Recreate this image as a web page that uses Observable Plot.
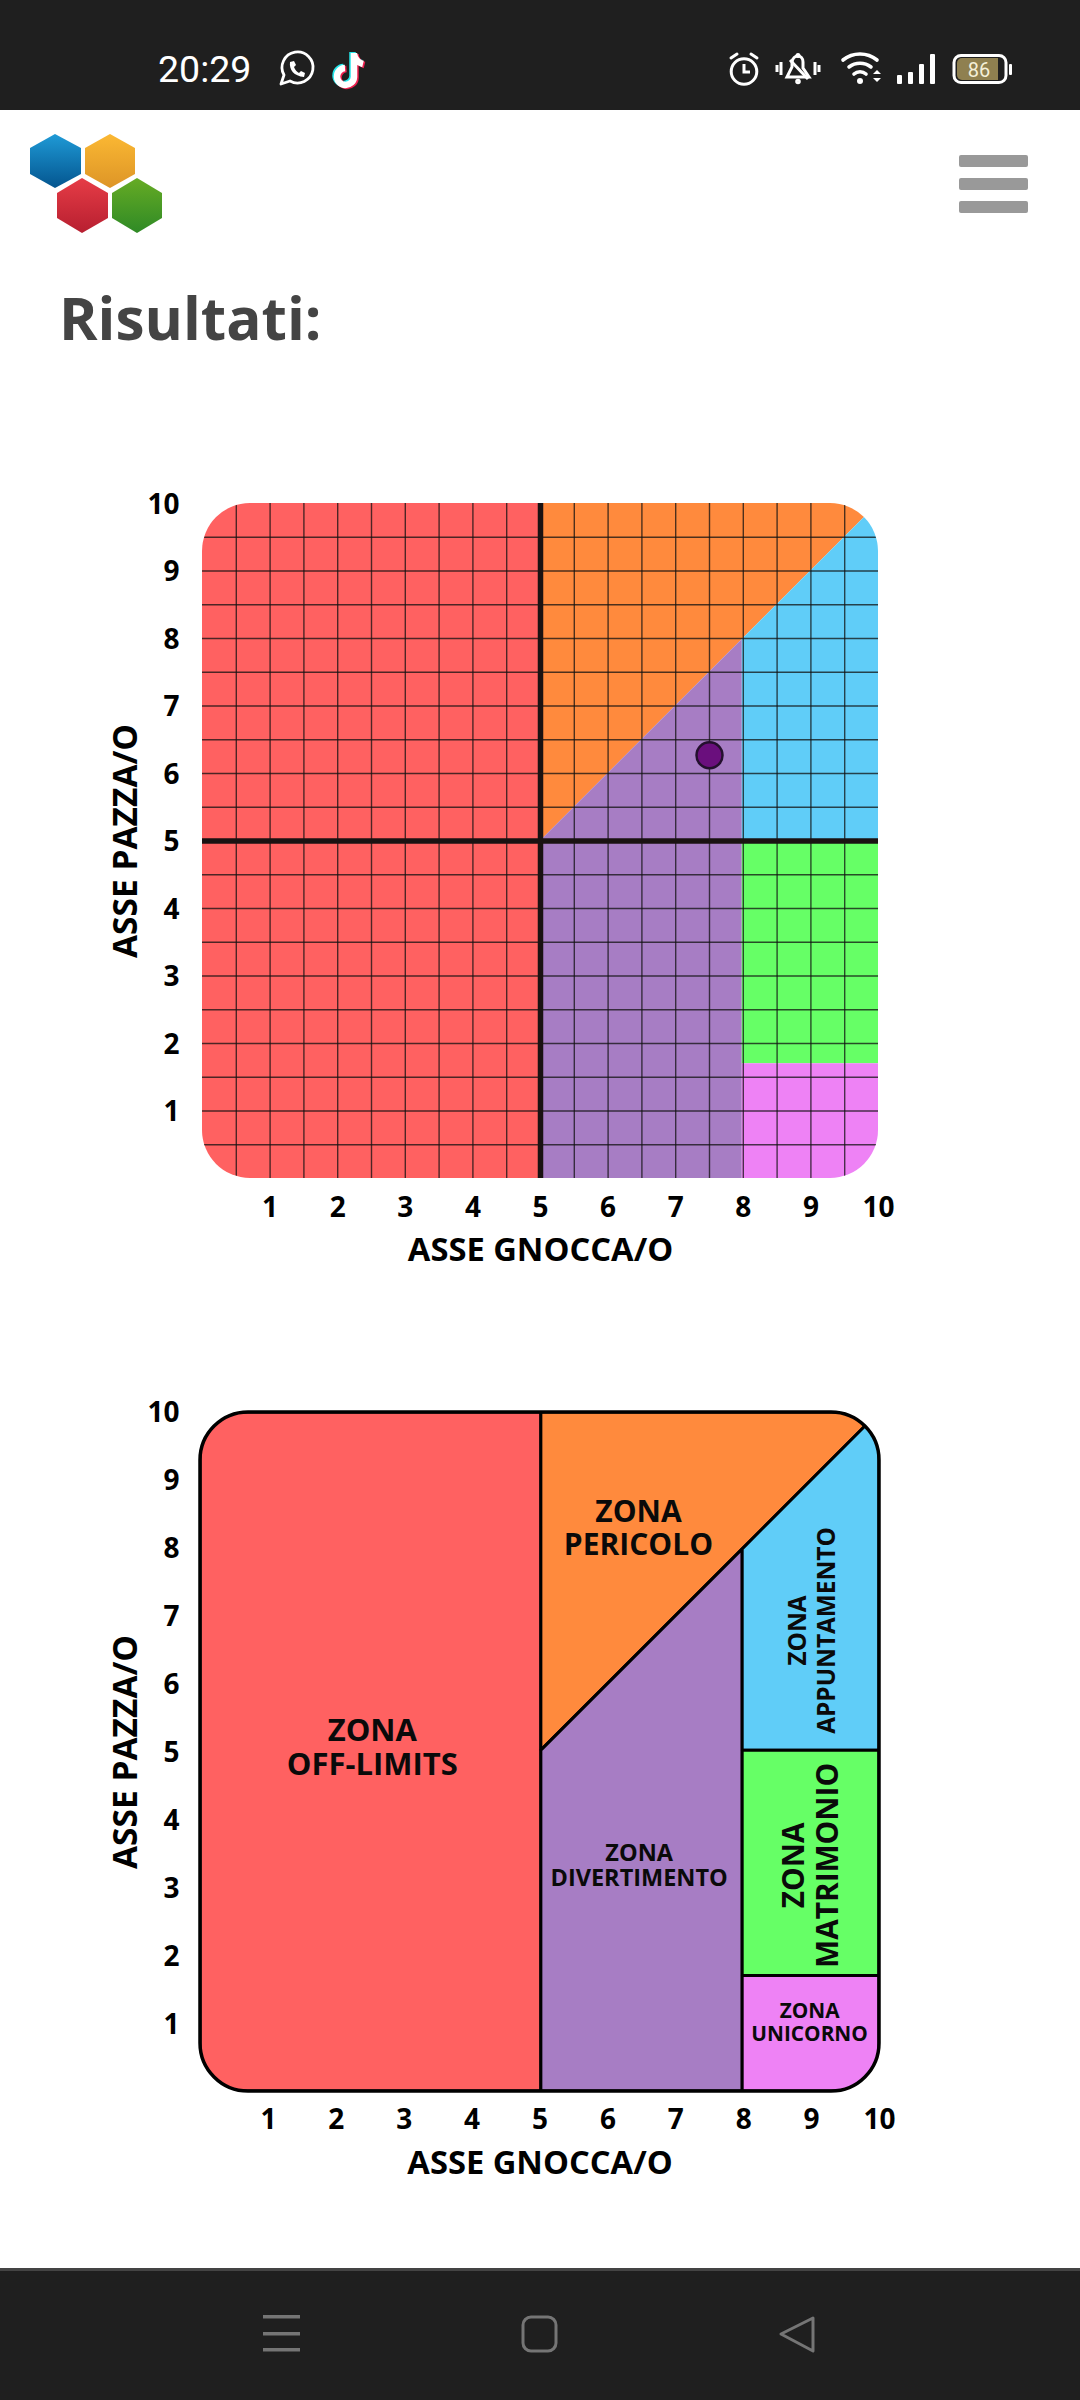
<!DOCTYPE html>
<html lang="it">
<head>
<meta charset="utf-8">
<script src="https://cdn.jsdelivr.net/npm/d3@7"></script>
<script src="https://cdn.jsdelivr.net/npm/@observablehq/plot@0.6"></script>
<style>
  html, body { margin: 0; padding: 0; background: #fff; }
  #page { position: relative; width: 1080px; height: 2400px; overflow: hidden; background: #fff; font-family: "Open Sans", sans-serif; }
  #top { position: absolute; left: 0; top: 0; width: 1080px; height: 110px; background: #1f1f1f; }
  #bottom { position: absolute; left: 0; top: 2268px; width: 1080px; height: 132px; background: #1f1f1f; border-top: 3px solid #444; box-sizing: border-box; }
  #clock { position: absolute; left: 158px; top: 45px; font: 400 37.5px/48px Roboto, sans-serif; color: #fff; }
  #title { position: absolute; left: 59px; top: 277px; margin: 0; font: 700 58.5px/80px "Open Sans", sans-serif; color: #444; }
  #chrome { position: absolute; left: 0; top: 0; }
  .chart { position: absolute; left: 0; }
  .chart svg { display: block; overflow: visible; }
</style>
</head>
<body>
<div id="page">
  <div id="top"></div>
  <div id="bottom"></div>
  <div id="clock">20:29</div>
  <svg id="chrome" width="1080" height="2400" aria-hidden="true">
    <defs>
      <linearGradient id="gb" x1="0" y1="0" x2="0" y2="1"><stop offset="0" stop-color="#1f9ad6"/><stop offset="1" stop-color="#04558f"/></linearGradient>
      <linearGradient id="go" x1="0" y1="0" x2="0" y2="1"><stop offset="0" stop-color="#fbb833"/><stop offset="1" stop-color="#dd9527"/></linearGradient>
      <linearGradient id="gr" x1="0" y1="0" x2="0" y2="1"><stop offset="0" stop-color="#e63c46"/><stop offset="1" stop-color="#b71f30"/></linearGradient>
      <linearGradient id="gg" x1="0" y1="0" x2="0" y2="1"><stop offset="0" stop-color="#66ab24"/><stop offset="1" stop-color="#2f8a26"/></linearGradient>
    </defs>
    <polygon points="55,134 81,148 81,174 55,188 30,174 30,148" fill="url(#gb)"/>
    <polygon points="110,134 135,148 135,174 110,188 85,174 85,148" fill="url(#go)"/>
    <polygon points="82,178 108,193 108,218 82,233 57,218 57,193" fill="url(#gr)"/>
    <polygon points="137,178 162,193 162,218 137,233 112,218 112,193" fill="url(#gg)"/>
    <g fill="#999"><rect x="959" y="155" width="69" height="12" rx="2"/><rect x="959" y="178" width="69" height="12" rx="2"/><rect x="959" y="201" width="69" height="12" rx="2"/></g>

    <!-- whatsapp -->
    <path d="M281,84 L284,75 A15.5,15.5 0 1 1 290,81 Z" fill="none" stroke="#fff" stroke-width="2.8" stroke-linejoin="round"/>
    <path d="M290,62 C289,70 294,76 304,77 L305,73 L301,71 L299,73 C297,72 295,70 294,67 L296,65 L294,61 Z" fill="#fff"/>
    <!-- tiktok -->
    <g fill="none" stroke-width="6.5">
      <path d="M354,53 V77 A8.5,8.5 0 1 1 345,68 M354,54 C355,60 359,63 363,64" stroke="#25e6ea" transform="translate(-1.5,-1)"/>
      <path d="M354,53 V77 A8.5,8.5 0 1 1 345,68 M354,54 C355,60 359,63 363,64" stroke="#f0204f" transform="translate(1.5,1)"/>
      <path d="M354,53 V77 A8.5,8.5 0 1 1 345,68 M354,54 C355,60 359,63 363,64" stroke="#fff"/>
    </g>
    <!-- alarm -->
    <g fill="none" stroke="#fff" stroke-width="3">
      <circle cx="744" cy="71.5" r="12.8"/>
      <path d="M744,64 V72 H750"/>
      <path d="M731,58 L737,54 M757,58 L751,54" stroke-linecap="round"/>
    </g>
    <!-- silent bell -->
    <g fill="none" stroke="#fff" stroke-width="3">
      <path d="M787,77 H809 L803,68 V62 C803,54 793,54 792,62 V67 Z"/>
      <path d="M790,60 L808,79"/>
      <path d="M777,65 V72 M781,62 V75 M815,62 V75 M819,65 V72"/>
      <circle cx="798" cy="81.5" r="1.3"/>
      <circle cx="798" cy="55.5" r="1"/>
    </g>
    <!-- wifi -->
    <g fill="none" stroke="#fff" stroke-width="3.6" stroke-linecap="round">
      <path d="M843,60 A27,27 0 0 1 877,60"/>
      <path d="M849,67 A18,18 0 0 1 871,67"/>
      <path d="M854,74 A9,9 0 0 1 866,74"/>
    </g>
    <circle cx="860" cy="81" r="3" fill="#fff"/>
    <path d="M873,74 L877,70 L881,74 Z M873,78 L877,82 L881,78 Z" fill="#fff"/>
    <!-- signal -->
    <g fill="#fff">
      <rect x="897" y="75" width="5" height="9" rx="1"/><rect x="908" y="72" width="5" height="12" rx="1"/>
      <rect x="919" y="64" width="5" height="20" rx="1"/><rect x="930" y="54" width="5" height="30" rx="1"/>
    </g>
    <!-- battery -->
    <rect x="954" y="55.5" width="52" height="27" rx="7" fill="#1f1f1f" stroke="#fff" stroke-width="3"/>
    <path d="M962,58 H998 V80 H962 A5,5 0 0 1 957,75 V63 A5,5 0 0 1 962,58 Z" fill="#8f8050"/>
    <rect x="1009" y="64" width="3" height="11" rx="1" fill="#fff"/>
    <text x="979" y="77" text-anchor="middle" font-family="Roboto, sans-serif" font-size="20" fill="#f4efd8">86</text>

    <!-- navigation bar -->
    <g fill="#757575"><rect x="263" y="2315" width="37" height="3.5"/><rect x="263" y="2332" width="37" height="3.5"/><rect x="263" y="2348" width="37" height="3.5"/></g>
    <rect x="523" y="2317" width="33" height="34" rx="8" fill="none" stroke="#757575" stroke-width="3"/>
    <path d="M813,2318 L781,2334 L813,2351 Z" fill="none" stroke="#757575" stroke-width="3" stroke-linejoin="round"/>
  </svg>
  <h1 id="title">Risultati:</h1>
  <div class="chart" id="chart1" style="top:470px"></div>
  <div class="chart" id="chart2" style="top:1380px"></div>
</div>

<script>
// Axis ticks and labels
const tickValues = [1, 2, 3, 4, 5, 6, 7, 8, 9, 10];
const gridValues = [0.5, 1, 1.5, 2, 2.5, 3, 3.5, 4, 4.5, 5, 5.5, 6, 6.5, 7, 7.5, 8, 8.5, 9, 9.5];
const xLabel = "ASSE GNOCCA/O";
const yLabel = "ASSE PAZZA/O";

// Zones: each is an outline of [x, lower y, upper y] steps
const redZone    = [[0, 0, 10], [5.02, 0, 10]];
const orangeZone = [[5.02, 5.02, 10], [10, 10, 10]];
const purpleZone = [[5.02, 0, 5.02], [7.985, 0, 7.985]];
const blueZone   = [[7.985, 5.02, 7.985], [10, 5.02, 10]];
const greenZone  = [[7.985, 1.7, 5.02], [10, 1.7, 5.02]];
const pinkZone   = [[7.985, 0, 1.7], [10, 0, 1.7]];

const zoneNames  = ["off-limits", "pericolo", "divertimento", "appuntamento", "matrimonio", "unicorno"];
const zoneShapes = [redZone, orangeZone, purpleZone, blueZone, greenZone, pinkZone];
const zoneColors = ["#ff6161", "#ff8a3d", "#a77dc4", "#60cdf8", "#66ff66", "#ee82f5"];

// The user's result
const resultX = [7.5];
const resultY = [6.27];

// Zone captions
const captionText   = ["ZONA\nOFF-LIMITS", "ZONA\nPERICOLO", "ZONA\nDIVERTIMENTO", "ZONA\nAPPUNTAMENTO", "ZONA\nMATRIMONIO", "ZONA\nUNICORNO"];
const captionX      = [2.53, 6.45, 6.46, 8.99, 8.98, 8.97];
const captionY      = [5.07, 8.3, 3.33, 6.79, 3.33, 1.02];
const captionSize   = [31, 30, 23.5, 24.4, 29.8, 20.8];
const captionLead   = [1.1, 1.1, 1.085, 1.19, 1.14, 1.1];
const captionRotate = [0, 0, 0, -90, -90, 0];

const font = '"Open Sans", sans-serif';
const zoneRows = zoneNames.flatMap((zone, i) =>
  zoneShapes[i].map(([x, y1, y2]) => ({zone, x, y1, y2, color: zoneColors[i]})));
const captions = captionText.map((text, i) => ({
  text, x: captionX[i], y: captionY[i], size: captionSize[i], lead: captionLead[i], rotate: captionRotate[i]
}));

function zoneMark(extra) {
  return Plot.areaY(zoneRows, {x: "x", y1: "y1", y2: "y2", z: "zone", fill: "color", curve: "linear", ...extra});
}

function axes(tickPaddingX, tickPaddingY, tickShiftY, labelOffsetX, labelOffsetY) {
  const tick = {ticks: tickValues, tickSize: 0, label: null, fontSize: 28};
  return [
    Plot.axisX({...tick, anchor: "bottom", tickPadding: tickPaddingX}),
    Plot.axisY({...tick, anchor: "left", tickPadding: tickPaddingY, dy: tickShiftY}),
    Plot.axisX({ticks: [], tickSize: 0, anchor: "bottom", label: xLabel, labelAnchor: "center", labelArrow: "none", labelOffset: labelOffsetX, fontSize: 32.7}),
    Plot.axisY({ticks: [], tickSize: 0, anchor: "left", label: yLabel, labelAnchor: "center", labelArrow: "none", labelOffset: labelOffsetY, fontSize: 33.5})
  ];
}

// Round the plotted area's corners, with the corners taken from the chart's own scales
function roundCorners(svg, id, radius, labels) {
  const x = svg.scale("x"), y = svg.scale("y");
  const ns = "http://www.w3.org/2000/svg";
  const clip = document.createElementNS(ns, "clipPath");
  clip.setAttribute("id", id);
  const rect = document.createElementNS(ns, "rect");
  rect.setAttribute("x", x.apply(0));
  rect.setAttribute("y", y.apply(10));
  rect.setAttribute("width", x.apply(10) - x.apply(0));
  rect.setAttribute("height", y.apply(0) - y.apply(10));
  rect.setAttribute("rx", radius);
  clip.appendChild(rect);
  svg.insertBefore(clip, svg.firstChild);
  svg.querySelectorAll("g[aria-label]").forEach(g => {
    if (labels.includes(g.getAttribute("aria-label"))) g.setAttribute("clip-path", `url(#${id})`);
  });
  return svg;
}

const chart1 = Plot.plot({
  width: 1080, height: 800,
  marginLeft: 202, marginRight: 202, marginTop: 33, marginBottom: 92,
  x: {domain: [0, 10]}, y: {domain: [0, 10]},
  style: {fontFamily: font, fontWeight: 700, color: "#000", background: "transparent", overflow: "visible"},
  marks: [
    zoneMark(),
    Plot.ruleX(gridValues, {x: d => d, stroke: "#111", strokeOpacity: 0.75, strokeWidth: 1.4}),
    Plot.ruleY(gridValues, {y: d => d, stroke: "#111", strokeOpacity: 0.75, strokeWidth: 1.4}),
    Plot.ruleX([5], {stroke: "#1a1212", strokeWidth: 5.5}),
    Plot.ruleY([5], {stroke: "#1a1212", strokeWidth: 5.5}),
    Plot.dot(resultX.map((x, i) => ({x, y: resultY[i]})), {x: "x", y: "y", r: 13, fill: "#6a0f7d", stroke: "#24102e", strokeWidth: 2.5}),
    ...axes(19, 23, 1.5, 82, 89)
  ]
});
roundCorners(chart1, "round1", 48, ["area", "rule"]);
document.getElementById("chart1").appendChild(chart1);

const chart2 = Plot.plot({
  width: 1080, height: 820,
  marginLeft: 200, marginRight: 201, marginTop: 32, marginBottom: 109,
  x: {domain: [0, 10]}, y: {domain: [0, 10]},
  style: {fontFamily: font, fontWeight: 700, color: "#000", background: "transparent", overflow: "visible"},
  marks: [
    zoneMark({stroke: "#000", strokeWidth: 3, strokeLinejoin: "miter"}),
    Plot.rect([{}], {x1: () => 0, x2: () => 10, y1: () => 0, y2: () => 10, rx: 48, fill: "none", stroke: "#000", strokeWidth: 3.5}),
    ...captions.map(c => Plot.text([c], {
      x: "x", y: "y", text: "text", fontSize: c.size, rotate: c.rotate, lineHeight: c.lead, fill: "#0a0a0a", textAnchor: "middle"
    })),
    ...axes(18, 21, 1, 82, 87)
  ]
});
roundCorners(chart2, "round2", 48, ["area"]);
document.getElementById("chart2").appendChild(chart2);
</script>
</body>
</html>
